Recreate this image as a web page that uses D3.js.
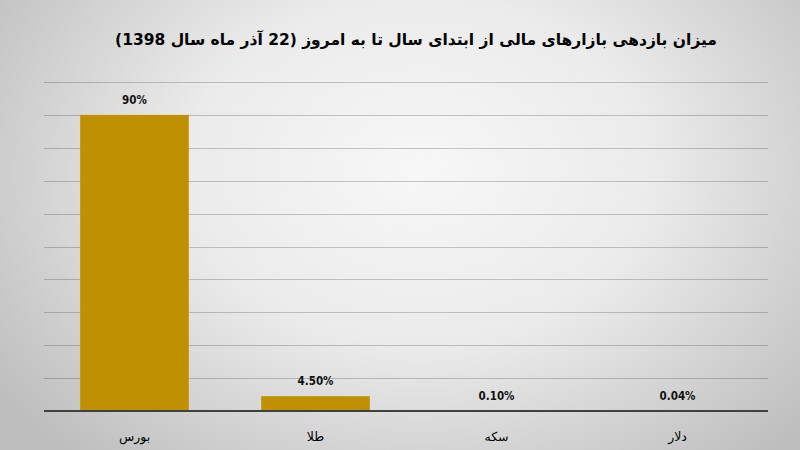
<!DOCTYPE html>
<html><head><meta charset="utf-8">
<script src="https://cdn.jsdelivr.net/npm/d3@7"></script>
<style>html,body{margin:0;padding:0;background:#ddd;}svg{display:block;}</style>
</head><body>
<svg id="chart" width="800" height="450"></svg>
<script>
const title = "میزان بازدهی بازارهای مالی از ابتدای سال تا به امروز (22 آذر ماه سال 1398)";
const categories = ["بورس", "طلا", "سکه", "دلار"];
const values = [90, 4.5, 0.1, 0.04];
const valueLabels = ["90%", "4.50%", "0.10%", "0.04%"];
const gridTicks = [0, 10, 20, 30, 40, 50, 60, 70, 80, 90, 100];

const W = 800, H = 450;
const m = {left: 44, right: 32, top: 82, bottom: 39};
const svg = d3.select("#chart");

const defs = svg.append("defs");
const rg = defs.append("radialGradient").attr("id", "bg")
  .attr("gradientUnits", "userSpaceOnUse")
  .attr("cx", 420).attr("cy", 170).attr("r", 520)
  .attr("gradientTransform", "translate(420,170) scale(1,0.75) translate(-420,-170)");
rg.append("stop").attr("offset", "0%").attr("stop-color", "#f7f7f7");
rg.append("stop").attr("offset", "45%").attr("stop-color", "#ebebeb");
rg.append("stop").attr("offset", "100%").attr("stop-color", "#bdbdbd");
svg.append("rect").attr("width", W).attr("height", H).attr("fill", "url(#bg)");

const x = d3.scaleBand().domain(categories).range([m.left, W - m.right])
  .paddingInner(0.4).paddingOuter(0.2);
const y = d3.scaleLinear().domain([0, 100]).range([H - m.bottom, m.top]);

// gridlines
svg.append("g").selectAll("line").data(gridTicks.filter(d => d > 0)).join("line")
  .attr("x1", m.left).attr("x2", W - m.right)
  .attr("y1", d => Math.round(y(d)) + 0.5).attr("y2", d => Math.round(y(d)) + 0.5)
  .attr("stroke", "rgba(0,0,0,0.2)").attr("stroke-width", 1);

// bars
svg.append("g").selectAll("rect").data(values).join("rect")
  .attr("x", (d, i) => x(categories[i]))
  .attr("width", x.bandwidth())
  .attr("y", d => y(d))
  .attr("height", d => y(0) - y(d))
  .attr("fill", "#bf9000");

// axis line
svg.append("line").attr("x1", m.left).attr("x2", W - m.right)
  .attr("y1", y(0)).attr("y2", y(0))
  .attr("stroke", "#404040").attr("stroke-width", 2);

// value labels
svg.append("g").selectAll("text").data(values).join("text")
  .attr("x", (d, i) => x(categories[i]) + x.bandwidth() / 2)
  .attr("y", d => y(d) - 11)
  .attr("text-anchor", "middle")
  .attr("font-family", "'DejaVu Sans Condensed', 'DejaVu Sans', sans-serif")
  .attr("font-size", 11.5).attr("font-weight", 600).attr("fill", "#111")
  .text((d, i) => valueLabels[i]);

// category labels
svg.append("g").selectAll("text").data(categories).join("text")
  .attr("x", d => x(d) + x.bandwidth() / 2)
  .attr("y", H - 9)
  .attr("text-anchor", "middle")
  .attr("direction", "rtl")
  .attr("font-family", "'DejaVu Sans', sans-serif")
  .attr("font-size", 12.5).attr("fill", "#000")
  .text(d => d);

// title
svg.append("text")
  .attr("x", 416).attr("y", 45)
  .attr("text-anchor", "middle")
  .attr("direction", "rtl")
  .attr("font-family", "'DejaVu Sans', sans-serif")
  .attr("font-weight", "bold")
  .attr("font-size", 15.5).attr("fill", "#000")
  .text(title);
</script>
</body></html>
